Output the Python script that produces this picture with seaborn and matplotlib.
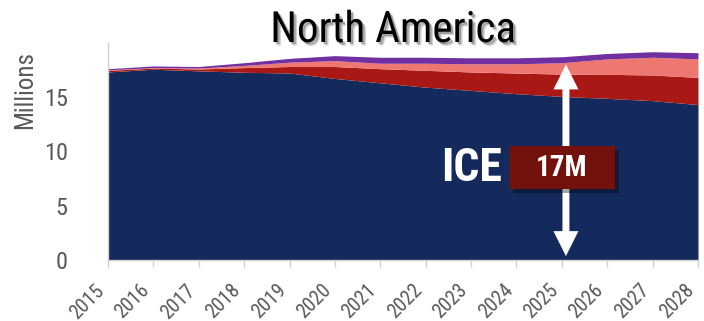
import numpy as np
import pandas as pd
import matplotlib
matplotlib.use("Agg")
import matplotlib.pyplot as plt
import matplotlib.patheffects as pe
import matplotlib.transforms as mtransforms
from matplotlib import font_manager as fm
from matplotlib.patches import Rectangle, FancyArrowPatch
import seaborn as sns

# Annual light-vehicle sales by powertrain, North America (millions)
years = [2015, 2016, 2017, 2018, 2019, 2020, 2021, 2022, 2023, 2024, 2025, 2026, 2027, 2028]
ice = [17.30, 17.55, 17.40, 17.27, 17.20, 16.70, 16.30, 15.90, 15.60, 15.30, 15.05, 14.87, 14.66, 14.30]
hybrid = [0.15, 0.11, 0.17, 0.43, 0.60, 1.10, 1.30, 1.55, 1.70, 1.90, 2.05, 2.21, 2.36, 2.50]
plugin_hybrid = [0.05, 0.04, 0.09, 0.20, 0.40, 0.54, 0.50, 0.65, 0.75, 0.85, 1.05, 1.42, 1.63, 1.70]
battery_ev = [0.10, 0.15, 0.14, 0.25, 0.35, 0.46, 0.55, 0.55, 0.55, 0.55, 0.55, 0.50, 0.51, 0.57]
yticks = [0, 5, 10, 15]
highlight_year = 2025

df = pd.DataFrame({"year": years, "ICE": ice, "HEV": hybrid, "PHEV": plugin_hybrid, "BEV": battery_ev})
colors = ["#142A5C", "#A81915", "#EF7772", "#7030A0"]

sns.set_theme(style="white")
plt.rcParams["font.family"] = ["Liberation Sans", "DejaVu Sans"]


def pick_narrow(weight="normal"):
    """Return FontProperties for the best available narrow/condensed sans face."""
    want_bold = weight == "bold"
    narrow_stretch = {"condensed", "semi-condensed", "extra-condensed", "ultra-condensed"}
    preferred = ["Liberation Sans Narrow", "Arial Narrow", "Roboto Condensed",
                 "Roboto", "Open Sans Condensed", "Open Sans", "Noto Sans", "DejaVu Sans"]
    entries = fm.fontManager.ttflist
    for name in preferred:
        for f in entries:
            if f.name != name or f.style != "normal":
                continue
            is_bold = (f.weight in ("bold", 700) or str(f.weight) in ("700", "bold"))
            if is_bold != want_bold:
                continue
            if "Narrow" in name or "Condensed" in name or f.stretch in narrow_stretch:
                return fm.FontProperties(fname=f.fname), True
    return fm.FontProperties(family=["Liberation Sans", "DejaVu Sans"], weight=weight), False


reg_fp, reg_narrow = pick_narrow("normal")
bold_fp, bold_narrow = pick_narrow("bold")
shrink = 1.0 if reg_narrow else 0.9
bshrink = 1.0 if bold_narrow else 0.9


def fp(base, size):
    p = base.copy()
    p.set_size(size)
    return p


fig = plt.figure(figsize=(7.04, 3.21), dpi=100)
ax = fig.add_axes([108 / 704, 1 - 260 / 321, 590 / 704, (260 - 42.6) / 321])

ax.stackplot(df["year"], df["ICE"], df["HEV"], df["PHEV"], df["BEV"],
             colors=colors, linewidth=0)

ax.set_xlim(2015, 2028)
ax.set_ylim(0, 20)
ax.set_xticks(years)
ax.set_xticklabels([str(y) for y in years], rotation=45, ha="right", va="top",
                   color="#595959", fontproperties=fp(reg_fp, 14.5 * shrink))
shift = mtransforms.ScaledTranslation(6 / 100, 0, fig.dpi_scale_trans)
for lbl in ax.get_xticklabels():
    lbl.set_transform(lbl.get_transform() + shift)
ax.set_yticks(yticks)
ax.set_yticklabels([str(v) for v in yticks], color="#595959",
                   fontproperties=fp(reg_fp, 17.5 * shrink))
ax.tick_params(axis="x", length=5, width=1, color="#D0D0D0", pad=10, bottom=True)
ax.tick_params(axis="y", length=0, pad=29)
sns.despine(ax=ax, top=True, right=True)
for side in ("left", "bottom"):
    ax.spines[side].set_color("#D0D0D0")
    ax.spines[side].set_linewidth(1)

fig.text(25 / 704, 1 - 90 / 321, "Millions", rotation=90, ha="center", va="center",
         color="#595959", fontproperties=fp(reg_fp, 18 * shrink))

# Title with a soft drop shadow
fig.text(393 / 704, 1 - 42 / 321, "North America", ha="center", va="baseline",
         color="black", fontproperties=fp(reg_fp, 31 if reg_narrow else 29),
         path_effects=[pe.SimplePatchShadow(offset=(2.5, -2.5), shadow_rgbFace="black", alpha=0.18),
                       pe.SimplePatchShadow(offset=(1.5, -1.5), shadow_rgbFace="black", alpha=0.25),
                       pe.Normal()])

# Double-headed arrow spanning the highlighted year's total
idx = years.index(highlight_year)
total = ice[idx] + hybrid[idx] + plugin_hybrid[idx] + battery_ev[idx]
ax_x = highlight_year + 0.09
mid = total / 2
for end in (total - 0.45, 0.1):
    arrow = FancyArrowPatch((ax_x, mid), (ax_x, end),
                            arrowstyle="simple,head_length=18,head_width=18,tail_width=5",
                            mutation_scale=1, color="white", lw=0, zorder=4)
    ax.add_patch(arrow)

# Callout: combustion-engine volume in the highlighted year
ice_label = ice[idx] + hybrid[idx]
box = Rectangle((2023.84, 6.53), 2.33, 3.96, facecolor="#73120D", edgecolor="none", zorder=5,
                path_effects=[pe.SimplePatchShadow(offset=(3, -3), shadow_rgbFace="black", alpha=0.35),
                              pe.Normal()])
ax.add_patch(box)
ax.text(2025.0, 8.5, f"{ice_label:.0f}M", ha="center", va="center",
        color="white", zorder=6, fontproperties=fp(bold_fp, 21 * bshrink))
ax.text(2023.0, 8.46, "ICE", ha="center", va="center",
        color="white", zorder=6, fontproperties=fp(bold_fp, 33 * bshrink))

fig.savefig("out.png", dpi=100)
